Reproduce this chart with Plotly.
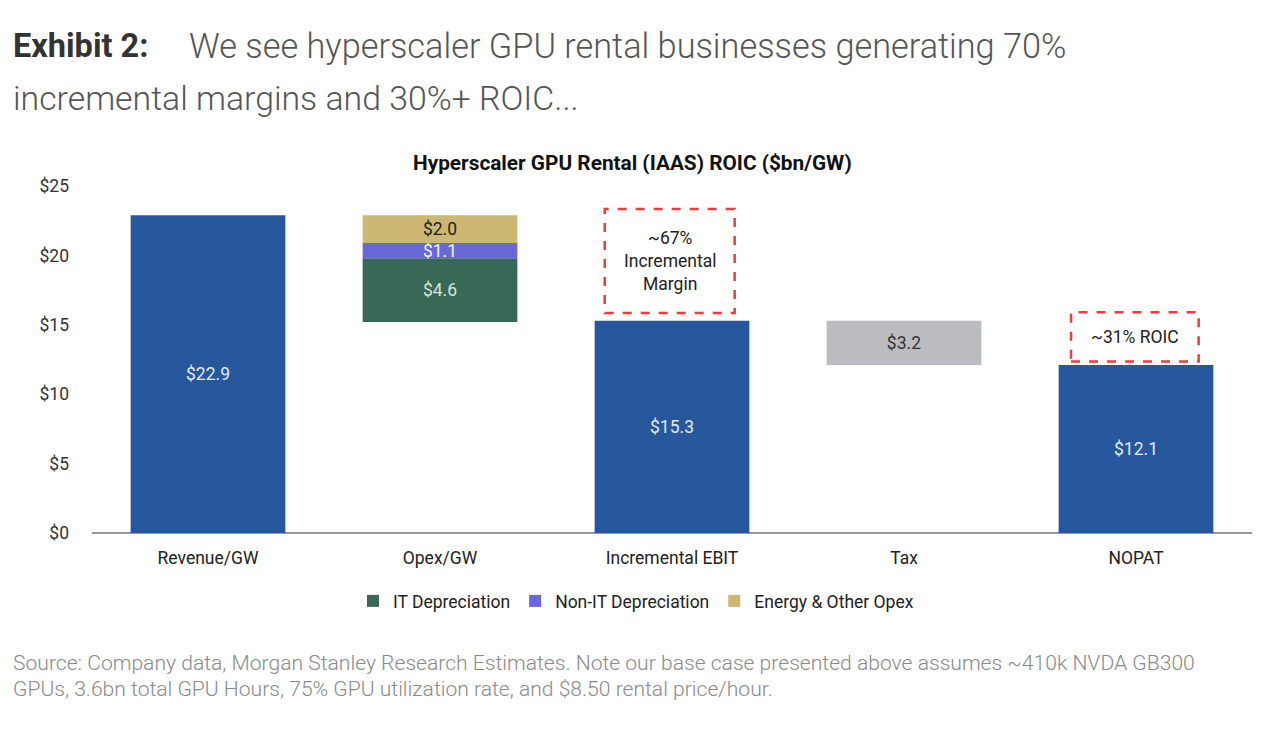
import plotly.graph_objects as go

categories = ["Revenue/GW", "Opex/GW", "Incremental EBIT", "Tax", "NOPAT"]
revenue = 22.9
it_dep = 4.6
non_it_dep = 1.1
energy_opex = 2.0
ebit = 15.3
tax = 3.2
nopat = 12.1
y_ticks = [0, 5, 10, 15, 20, 25]
y_tick_labels = ["$0", "$5", "$10", "$15", "$20", "$25"]

BLUE = "#27579C"
GREEN = "#386856"
PURPLE = "#6868D9"
TAN = "#CDB873"
GRAY = "#BBBCC0"

CFONT = "Roboto, sans-serif"
FS = 17.5

opex_base = revenue - (it_dep + non_it_dep + energy_opex)

fig = go.Figure()

def add_bar(x, y, base, color, text_color, name=None, show=False):
    fig.add_trace(go.Bar(
        x=[x], y=[y], base=[base], name=name, showlegend=show,
        marker=dict(color=color, line=dict(width=0)),
        text=[f"${y:.1f}"], textposition="inside", insidetextanchor="middle",
        textangle=0,
        textfont=dict(family=CFONT, size=FS, color=text_color),
        hoverinfo="skip",
    ))

add_bar(categories[0], revenue, 0, BLUE, "#E3EAF4")
add_bar(categories[1], it_dep, opex_base, GREEN, "#D9E6DE", "IT Depreciation", True)
add_bar(categories[1], non_it_dep, opex_base + it_dep, PURPLE, "#F2F2FF", "Non-IT Depreciation", True)
add_bar(categories[1], energy_opex, opex_base + it_dep + non_it_dep, TAN, "#222222", "Energy & Other Opex", True)
add_bar(categories[2], ebit, 0, BLUE, "#E3EAF4")
add_bar(categories[3], tax, nopat, GRAY, "#333333")
add_bar(categories[4], nopat, 0, BLUE, "#E3EAF4")

# dashed callout boxes
fig.add_shape(type="rect", xref="x", yref="y", x0=1.71, x1=2.27, y0=15.85, y1=23.35,
              line=dict(color="#EE3B3B", width=2.5, dash="dash"), fillcolor="rgba(0,0,0,0)")
fig.add_shape(type="rect", xref="x", yref="y", x0=3.72, x1=4.27, y0=12.35, y1=15.9,
              line=dict(color="#EE3B3B", width=2.5, dash="dash"), fillcolor="rgba(0,0,0,0)")

fig.add_annotation(x=1.99, y=19.6, xref="x", yref="y", showarrow=False,
                   text="~67%<br>Incremental<br>Margin",
                   font=dict(family=CFONT, size=FS, color="#222222"), align="center")
fig.add_annotation(x=3.995, y=14.12, xref="x", yref="y", showarrow=False,
                   text="~31% ROIC",
                   font=dict(family=CFONT, size=FS, color="#222222"), align="center")

PW = 1160.0
PH = 347.0
def px(xp):
    return (xp - 92) / PW
def py(yp):
    return (533 - yp) / PH

# header texts
fig.add_annotation(xref="paper", yref="paper", x=px(11), y=py(46), xanchor="left", yanchor="middle",
                   showarrow=False, text="<b>Exhibit 2:</b>",
                   font=dict(family="Roboto", size=32.5, color="#333333"))
fig.add_annotation(xref="paper", yref="paper", x=px(187), y=py(46), xanchor="left", yanchor="middle",
                   showarrow=False, text="We see hyperscaler GPU rental businesses generating 70%",
                   font=dict(family="Roboto", size=34.3, color="#555555", weight=300))
fig.add_annotation(xref="paper", yref="paper", x=px(11), y=py(98), xanchor="left", yanchor="middle",
                   showarrow=False, text="incremental margins and 30%+ ROIC...",
                   font=dict(family="Roboto", size=33.8, color="#555555", weight=300))
fig.add_annotation(xref="paper", yref="paper", x=px(632), y=py(163), xanchor="center", yanchor="middle",
                   showarrow=False, text="<b>Hyperscaler GPU Rental (IAAS) ROIC ($bn/GW)</b>",
                   font=dict(family=CFONT, size=20.8, color="#111111"))
fig.add_annotation(xref="paper", yref="paper", x=px(11), y=py(662), xanchor="left", yanchor="middle",
                   showarrow=False,
                   text="Source: Company data, Morgan Stanley Research Estimates. Note our base case presented above assumes ~410k NVDA GB300",
                   font=dict(family="Roboto", size=21.1, color="#8A8A8A", weight=300))
fig.add_annotation(xref="paper", yref="paper", x=px(11), y=py(688), xanchor="left", yanchor="middle",
                   showarrow=False,
                   text="GPUs, 3.6bn total GPU Hours, 75% GPU utilization rate, and $8.50 rental price/hour.",
                   font=dict(family="Roboto", size=21.1, color="#8A8A8A", weight=300))

OFF = 8
fig.update_layout(
    width=1268 - OFF, height=738 - OFF,
    margin=dict(l=92 - OFF, r=16, t=186 - OFF, b=205, autoexpand=False),
    paper_bgcolor="white", plot_bgcolor="white",
    barmode="overlay", bargap=0.333,
    uniformtext=dict(minsize=FS, mode="show"),
    showlegend=True,
    legend=dict(orientation="h", x=px(636), xanchor="center", y=py(601), yanchor="middle",
                font=dict(family=CFONT, size=FS, color="#222222"),
                itemwidth=30, traceorder="normal", itemclick=False),
    xaxis=dict(type="category", categoryorder="array", categoryarray=categories,
               showgrid=False, showline=False, ticks="", zeroline=False,
               tickfont=dict(family=CFONT, size=FS, color="#222222"),
               ticklabelstandoff=12),
    yaxis=dict(range=[0, 25], tickvals=y_ticks, ticktext=y_tick_labels, showgrid=False,
               zeroline=True, zerolinecolor="#999999", zerolinewidth=2,
               showline=False, ticks="",
               tickfont=dict(family=CFONT, size=FS, color="#333333"),
               ticklabelstandoff=22),
)

fig.write_html("out.html")
